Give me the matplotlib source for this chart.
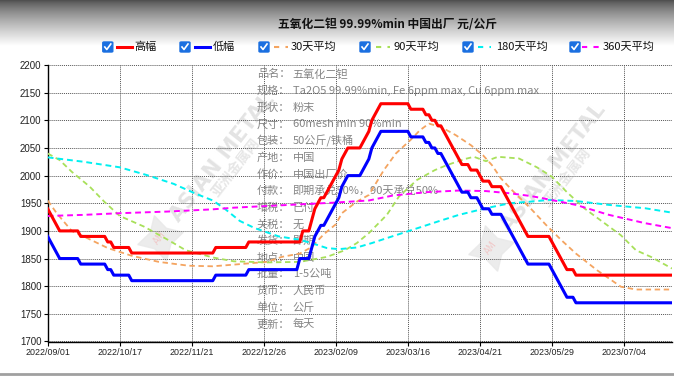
import numpy as np
import matplotlib
matplotlib.use('Agg')
import matplotlib.pyplot as plt
from matplotlib.lines import Line2D
from matplotlib.patches import FancyBboxPatch

plt.rcParams['font.family'] = ['Noto Sans CJK SC', 'DejaVu Sans']

W, H = 674, 376

title = '五氧化二钽 99.99%min 中国出厂 元/公斤'

# x axis: one point per trading day, a date label every 24 points
date_labels = ['2022/09/01', '2022/10/17', '2022/11/21', '2022/12/26', '2023/02/09',
               '2023/03/16', '2023/04/21', '2023/05/29', '2023/07/04']
tick_step = 24
y_ticks = [1700, 1750, 1800, 1850, 1900, 1950, 2000, 2050, 2100, 2150, 2200]

# 高幅 / 低幅 as (price, number of days)
high_runs = [(1940, 1), (1930, 1), (1920, 1), (1910, 1), (1900, 7), (1890, 9), (1880, 2),
             (1870, 6), (1860, 28), (1870, 11), (1880, 18), (1900, 3), (1920, 1), (1940, 1),
             (1950, 1), (1960, 2), (1970, 1), (1980, 1), (1990, 1), (2000, 1), (2010, 1),
             (2030, 1), (2040, 1), (2050, 5), (2060, 1), (2070, 1), (2080, 1), (2100, 1),
             (2110, 1), (2120, 1), (2130, 10), (2120, 5), (2110, 2), (2100, 2), (2090, 2),
             (2080, 1), (2070, 1), (2060, 1), (2050, 1), (2040, 1), (2030, 1), (2020, 3),
             (2010, 3), (2000, 1), (1990, 3), (1980, 4), (1970, 1), (1960, 1), (1950, 1),
             (1940, 1), (1930, 1), (1920, 1), (1910, 1), (1900, 1), (1890, 8), (1880, 1),
             (1870, 1), (1860, 1), (1850, 1), (1840, 1), (1830, 3), (1820, 33)]
low_runs = [(1890, 1), (1880, 1), (1870, 1), (1860, 1), (1850, 7), (1840, 9), (1830, 2),
            (1820, 6), (1810, 28), (1820, 11), (1830, 17), (1850, 4), (1870, 1), (1890, 1),
            (1900, 1), (1910, 2), (1920, 1), (1930, 1), (1940, 1), (1950, 1), (1960, 1),
            (1980, 1), (1990, 1), (2000, 5), (2010, 1), (2020, 1), (2030, 1), (2050, 1),
            (2060, 1), (2070, 1), (2080, 10), (2070, 5), (2060, 2), (2050, 2), (2040, 2),
            (2030, 1), (2020, 1), (2010, 1), (2000, 1), (1990, 1), (1980, 1), (1970, 3),
            (1960, 3), (1950, 1), (1940, 3), (1930, 4), (1920, 1), (1910, 1), (1900, 1),
            (1890, 1), (1880, 1), (1870, 1), (1860, 1), (1850, 1), (1840, 8), (1830, 1),
            (1820, 1), (1810, 1), (1800, 1), (1790, 1), (1780, 3), (1770, 33)]

ma30_day = [0, 3, 8, 12, 20, 28, 37, 47, 55, 62, 73, 78, 84, 88, 92, 96, 98, 103, 107,
            112, 116, 121, 124, 127, 131, 136, 141, 145, 148, 151, 155, 161, 166, 171,
            176, 183, 191, 196, 208]
ma30_val = [1955, 1932, 1900, 1890, 1869, 1855, 1844, 1837, 1836, 1839, 1844, 1853, 1859,
            1871, 1894, 1912, 1932, 1953, 1965, 2010, 2040, 2065, 2082, 2094, 2088, 2073,
            2055, 2037, 2019, 1995, 1972, 1940, 1911, 1884, 1859, 1829, 1799, 1794, 1794]

ma90_day = [0, 4, 8, 14, 19, 24, 32, 40, 46, 55, 62, 73, 84, 93, 99, 103, 107, 113, 117,
            123, 129, 133, 139, 142, 146, 150, 157, 163, 168, 173, 179, 184, 191, 196,
            201, 208]
ma90_val = [2040, 2028, 2007, 1980, 1952, 1927, 1908, 1884, 1865, 1852, 1845, 1843, 1844,
            1853, 1865, 1878, 1896, 1929, 1962, 1992, 2010, 2019, 2030, 2034, 2026, 2034,
            2031, 2015, 1998, 1970, 1940, 1920, 1892, 1865, 1853, 1832]

ma180_day = [0, 12, 24, 33, 42, 49, 55, 59, 64, 69, 77, 84, 89, 93, 97, 103, 108, 113,
             121, 130, 137, 146, 154, 161, 167, 176, 187, 199, 208]
ma180_val = [2033, 2025, 2015, 2001, 1985, 1968, 1955, 1940, 1918, 1905, 1890, 1884, 1876,
             1869, 1867, 1870, 1878, 1887, 1901, 1917, 1929, 1941, 1950, 1953, 1956, 1954,
             1947, 1941, 1933]

ma360_day = [0, 12, 24, 40, 55, 62, 73, 84, 95, 107, 115, 126, 137, 146, 154, 161, 165,
             176, 187, 199, 208]
ma360_val = [1927, 1929, 1932, 1935, 1939, 1942, 1945, 1948, 1951, 1955, 1964, 1970, 1973,
             1972, 1968, 1963, 1959, 1947, 1929, 1914, 1905]

info_rows = [('品名：', '五氧化二钽'),
             ('规格：', 'Ta2O5 99.99%min, Fe 6ppm max, Cu 6ppm max'),
             ('形状：', '粉末'),
             ('尺寸：', '60mesh min 90%min'),
             ('包装：', '50公斤/铁桶'),
             ('产地：', '中国'),
             ('作价：', '中国出厂价'),
             ('付款：', '即期承兑50%，90天承兑50%'),
             ('增税：', '已付'),
             ('关税：', '无'),
             ('发货：', '即期'),
             ('地点：', '中国'),
             ('批量：', '1-5公吨'),
             ('货币：', '人民币'),
             ('单位：', '公斤'),
             ('更新：', '每天')]


def expand(runs):
    """turns (value, days) pairs into a daily list"""
    vals = []
    for v, n in runs:
        vals += [v] * n
    return vals


def fx(px):
    return px / W


def fy(py):
    return 1 - py / H


high = expand(high_runs)
low = expand(low_runs)
days = np.arange(len(high))

fig = plt.figure(figsize=(W / 100, H / 100), dpi=100)

# grey gradient header
bg = fig.add_axes([0, fy(46), 1, 46 / H], zorder=-5)
t = np.linspace(0, 1, 100) ** 0.75
c = 0.30 + 0.70 * t
bg.imshow(np.dstack([c, c, c]).reshape(100, 1, 3), aspect='auto', extent=(0, 1, 0, 1))
bg.axis('off')

ax = fig.add_axes([fx(47.7), fy(341.5), fx(672 - 47.7), (341.5 - 65) / H])

ax.plot(days, high, color='#ff0000', lw=2.2, zorder=6, solid_joinstyle='round')
ax.plot(days, low, color='#0000ff', lw=2.2, zorder=6, solid_joinstyle='round')
ax.plot(ma30_day, ma30_val, color='#f4a460', lw=1.3, dashes=(3, 2), zorder=5)
ax.plot(ma90_day, ma90_val, color='#a8e05a', lw=1.3, dashes=(3, 2), zorder=5)
ax.plot(ma180_day, ma180_val, color='#00f0f0', lw=1.4, dashes=(3, 2), zorder=5)
ax.plot(ma360_day, ma360_val, color='#ff00ff', lw=1.4, dashes=(3, 2), zorder=5)

ax.set_xlim(0, 208)
ax.set_ylim(1700, 2200)
ax.set_xticks(np.arange(len(date_labels)) * tick_step)
ax.set_xticklabels(date_labels, fontsize=6.4, family='Liberation Sans', color='#222')
ax.set_yticks(y_ticks)
ax.set_yticklabels([str(v) for v in y_ticks], fontsize=7, family='Liberation Sans', color='#222')
ax.tick_params(direction='out', length=3, width=0.8, pad=1.5)
ax.grid(True, linestyle=(0, (1, 1)), color='#555555', lw=0.7)
for s in ['top', 'right']:
    ax.spines[s].set_visible(False)
for s in ['left', 'bottom']:
    ax.spines[s].set_linewidth(1.0)
    ax.spines[s].set_color('#000')

# product info block (under the lines)
for k, (lab, val) in enumerate(info_rows):
    yy = fy(74.3 + k * 16.67)
    ax.text(fx(256.7), yy, lab, transform=fig.transFigure, fontsize=8, color='#858585',
            va='center', ha='left', zorder=1)
    ax.text(fx(292.7), yy, val, transform=fig.transFigure, fontsize=8, color='#858585',
            va='center', ha='left', zorder=1)

# watermarks
for (wx, wy) in [(222, 158), (553, 168)]:
    ax.text(fx(wx), fy(wy), 'ASIAN METAL', transform=fig.transFigure, rotation=52,
            fontsize=15, fontweight='bold', color='#d8d8d8', alpha=0.7,
            ha='center', va='center', zorder=0.5, family='DejaVu Sans')
    ax.text(fx(wx + 14), fy(wy + 10), '亚洲金属网', transform=fig.transFigure, rotation=52,
            fontsize=10, fontweight='bold', color='#dcdcdc', alpha=0.7,
            ha='center', va='center', zorder=0.5)
    ax.plot([fx(wx - 62)], [fy(wy + 80)], marker=(4, 1, 15), markersize=34,
            color='#e8e8e8', alpha=0.8, transform=fig.transFigure, zorder=0.4, clip_on=False)
    ax.text(fx(wx - 62), fy(wy + 80), 'AM', transform=fig.transFigure, rotation=52,
            fontsize=7, color='#f0c8c8', ha='center', va='center', zorder=0.45)

# title
fig.text(fx(388), fy(25), title, ha='center', va='center', fontsize=8.5, fontweight='bold',
         color='#111')

# legend with checkboxes
legend_items = [(107.8, 117, 131.5, 134.5, '高幅', '#ff0000', '-'),
                (185, 195, 210, 212.5, '低幅', '#0000ff', '-'),
                (264, 274, 288, 291, '30天平均', '#f4a460', '--'),
                (365, 376, 390, 393, '90天平均', '#a8e05a', '--'),
                (468, 478, 491, 496, '180天平均', '#00f0f0', '--'),
                (575, 582, 599, 602.5, '360天平均', '#ff00ff', '--')]
ly = 47
for cx, x0, x1, tx, lab, col, ls in legend_items:
    box = FancyBboxPatch((fx(cx - 5), fy(ly + 5)), fx(10), 10 / H,
                         boxstyle='round,pad=0,rounding_size=0.002',
                         transform=fig.transFigure, facecolor='#1a6fe0', edgecolor='#1a6fe0')
    fig.add_artist(box)
    fig.add_artist(Line2D([fx(cx - 3), fx(cx - 1), fx(cx + 3)],
                          [fy(ly), fy(ly + 2.5), fy(ly - 3)],
                          transform=fig.transFigure, color='white', lw=1.2))
    if ls == '-':
        fig.add_artist(Line2D([fx(x0), fx(x1)], [fy(ly), fy(ly)], transform=fig.transFigure,
                              color=col, lw=2.2))
    else:
        fig.add_artist(Line2D([fx(x0), fx(x1)], [fy(ly), fy(ly)], transform=fig.transFigure,
                              color=col, lw=1.5, dashes=(2.5, 3)))
    fig.text(fx(tx), fy(ly), lab, ha='left', va='center', fontsize=8, color='#111')

# bottom frame line
fig.add_artist(Line2D([0, 1], [fy(374), fy(374)], transform=fig.transFigure,
                      color='#a0a0a0', lw=2))

fig.savefig('out.png', dpi=100)
